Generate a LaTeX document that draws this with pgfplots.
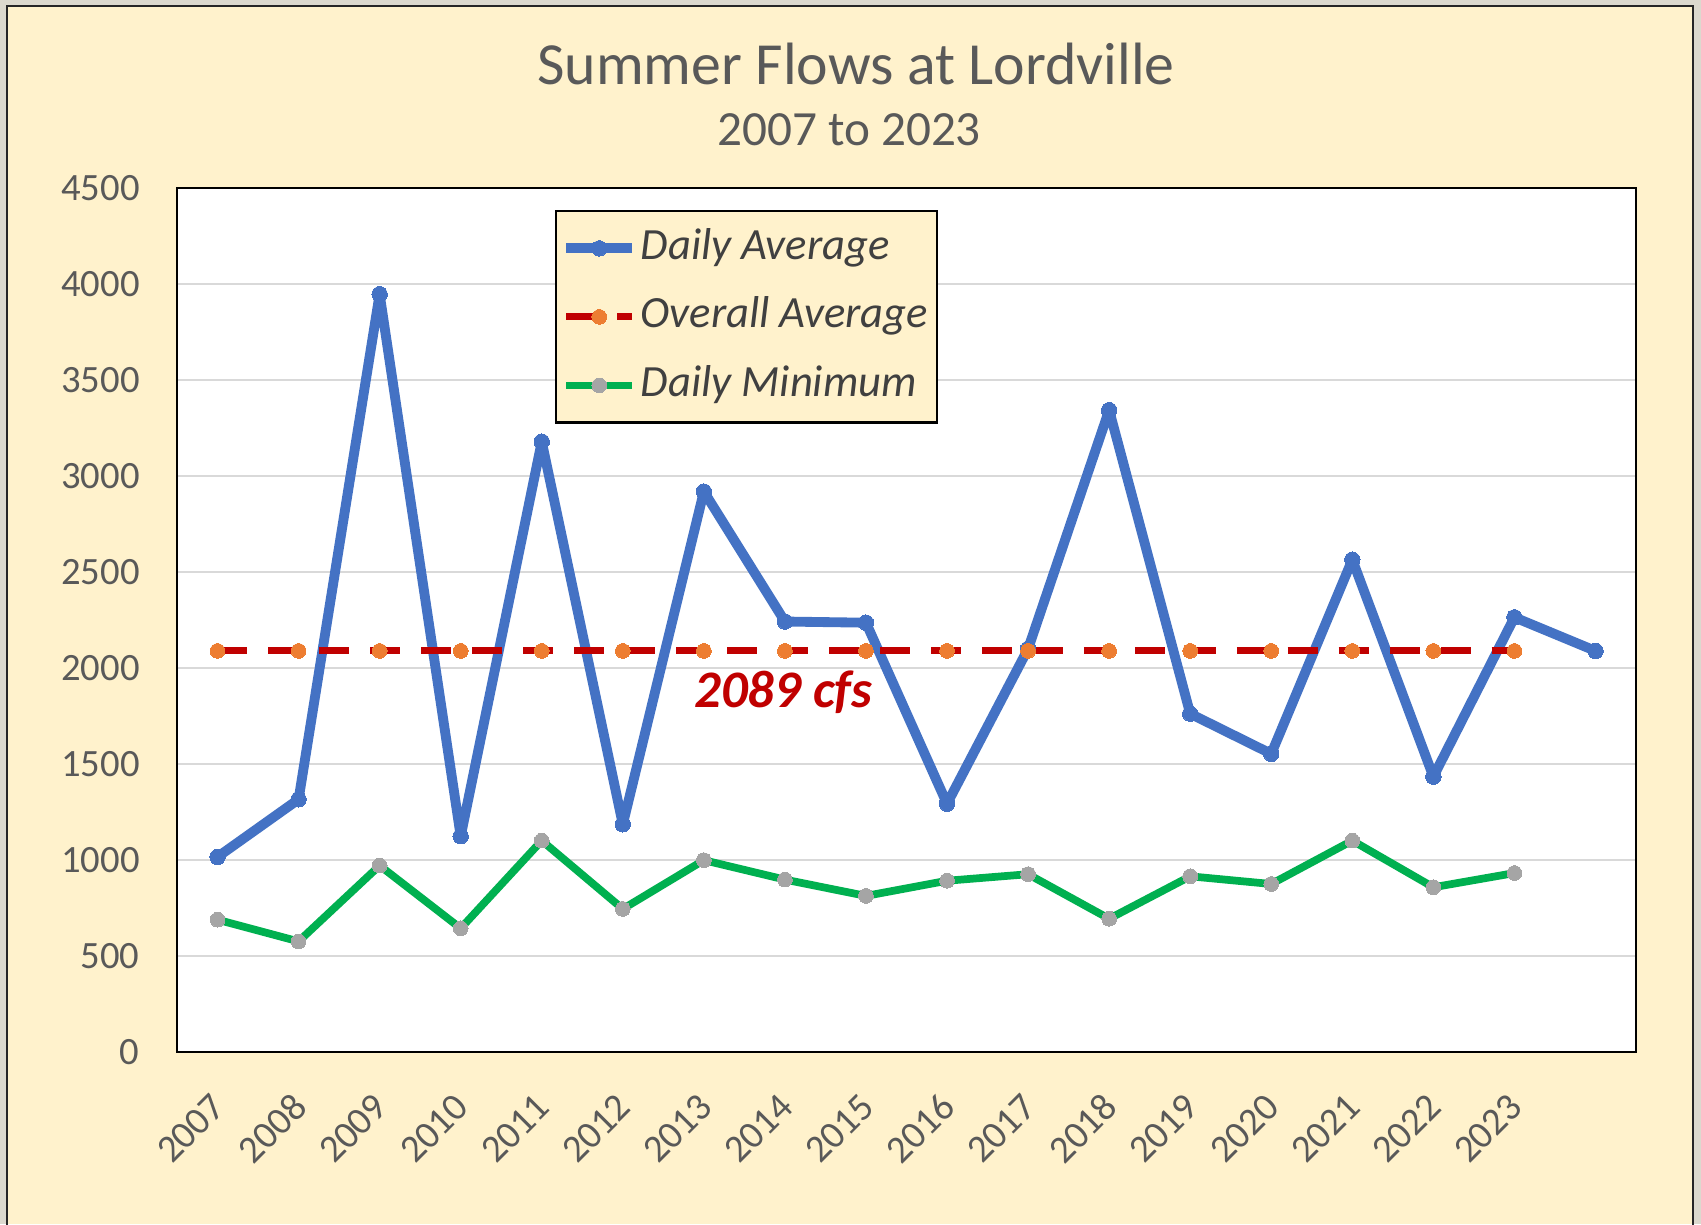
\documentclass[border=0pt]{standalone}
\usepackage{fontspec}
\setmainfont{Carlito}
\usepackage{pgfplots}
\pgfplotsset{compat=1.18}
\definecolor{bgyellow}{HTML}{FFF2CC}
\definecolor{outergray}{HTML}{DCD9CE}
\definecolor{avgblue}{HTML}{4472C4}
\definecolor{dkred}{HTML}{C00000}
\definecolor{markorange}{HTML}{ED7D31}
\definecolor{mingreen}{HTML}{00B050}
\definecolor{markgray}{HTML}{A5A5A5}
\definecolor{gridgray}{HTML}{D9D9D9}
\definecolor{tickgray}{HTML}{595959}
\definecolor{legtext}{HTML}{404040}

\begin{document}
\begin{tikzpicture}
\useasboundingbox (0,0) rectangle (17.01,12.24);
\fill[outergray] (0,0) rectangle (17.01,12.24);
\fill[bgyellow] (0.07,0) rectangle (16.93,12.18);
\draw[line width=0.7pt, black!85] (0.07,-0.1) -- (0.07,12.18) -- (16.93,12.18) -- (16.93,-0.1);
\node[anchor=base, font=\fontsize{17}{20}\selectfont, text=tickgray] at (8.56,11.39) {Summer Flows at Lordville};
\node[anchor=base, font=\fontsize{14}{17}\selectfont, text=tickgray] at (8.49,10.78) {2007 to 2023};

\begin{axis}[
    at={(1.77cm,1.72cm)}, anchor=south west,
    scale only axis,
    width=14.59cm, height=8.64cm,
    xmin=-0.5, xmax=17.5,
    ymin=0, ymax=4500,
    xtick={0,1,...,16},
    xticklabels={2007,2008,2009,2010,2011,2012,2013,2014,2015,2016,2017,2018,2019,2020,2021,2022,2023},
    ytick={0,500,...,4500},
    ymajorgrids,
    grid style={draw=gridgray, line width=0.8pt},
    major tick length=0pt,
    axis line style={black, line width=0.8pt},
    axis background/.style={fill=white},
    /pgf/number format/assume math mode=true,
    /pgf/number format/1000 sep={},
    scaled y ticks=false,
    tick label style={font=\fontsize{11}{13}\selectfont, text=tickgray},
    yticklabel style={xshift=-0.25cm},
    xticklabel style={xshift=0.1cm, yshift=-0.4cm, rotate=45, anchor=east},
    legend image code/.code={\draw[mark repeat=2, mark phase=2, #1] plot coordinates {(0cm,0cm) (0.33cm,0cm) (0.66cm,0cm)};},
    legend cell align=left,
    legend style={at={(0.259,0.9745)}, anchor=north west, fill=bgyellow, draw=black,
        line width=0.7pt, inner xsep=1.5pt, inner ysep=3.2pt, row sep=4.8pt, column sep=0pt,
        font=\fontsize{12.7}{15}\selectfont\itshape, text=legtext,
        nodes={inner sep=1pt, text height=9.5pt, text depth=3.2pt}},
]
\addplot[color=avgblue, line width=2.8pt, line join=round, mark=*, mark size=2.2pt,
    mark options={fill=avgblue, draw=avgblue, line width=0pt}] coordinates {
    (0,1016) (1,1316) (2,3947) (3,1124) (4,3179) (5,1186) (6,2919) (7,2242)
    (8,2236) (9,1293) (10,2100) (11,3343) (12,1762) (13,1553) (14,2564)
    (15,1434) (16,2264) (17,2089)
};
\addlegendentry{Daily Average}
\addplot[color=dkred, line width=2pt, dash pattern=on 8.5pt off 6pt, mark=*, mark size=2.1pt,
    mark options={solid, fill=markorange, draw=markorange, line width=0pt}] coordinates {
    (0,2089) (1,2089) (2,2089) (3,2089) (4,2089) (5,2089) (6,2089) (7,2089)
    (8,2089) (9,2089) (10,2089) (11,2089) (12,2089) (13,2089) (14,2089)
    (15,2089) (16,2089)
};
\addlegendentry{Overall Average}
\addplot[color=mingreen, line width=2.2pt, line join=round, mark=*, mark size=2.1pt,
    mark options={fill=markgray, draw=markgray, line width=0pt}] coordinates {
    (0,689) (1,576) (2,971) (3,644) (4,1101) (5,745) (6,999) (7,898)
    (8,813) (9,892) (10,926) (11,694) (12,915) (13,875) (14,1101)
    (15,858) (16,932)
};
\addlegendentry{Daily Minimum}
\node[anchor=base, font=\fontsize{15}{18}\selectfont\bfseries\itshape, text=dkred]
    at (axis cs:6.98,1796) {2089 cfs};
\end{axis}
\end{tikzpicture}
\end{document}
